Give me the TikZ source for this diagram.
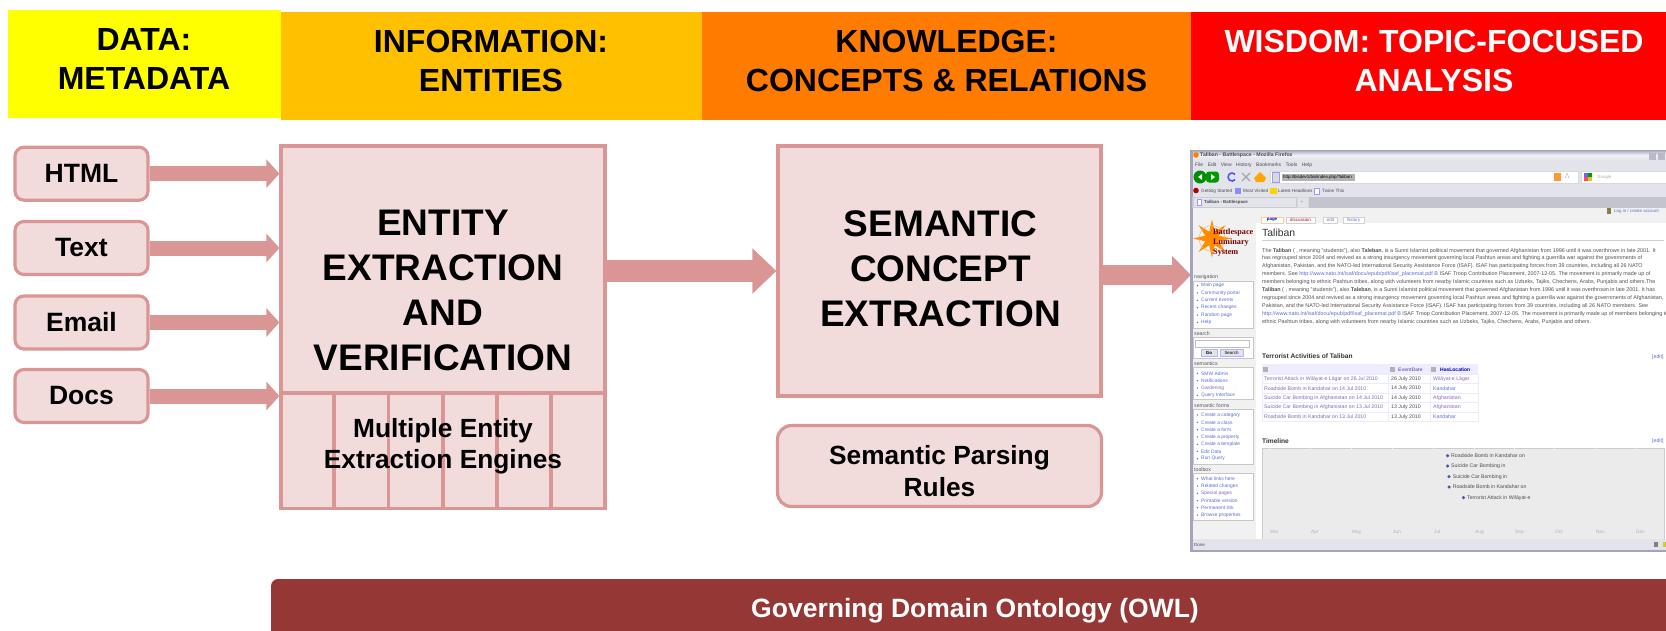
\documentclass[tikz,border=0pt]{standalone}
\usepackage{fontspec}
\setmainfont{Liberation Sans}
\newfontfamily\logofont{Liberation Serif}
\usetikzlibrary{arrows.meta,shapes.geometric}
\definecolor{databand}{HTML}{FFFF00}
\definecolor{infoband}{HTML}{FFC000}
\definecolor{knowband}{HTML}{FF7C00}
\definecolor{wisdomband}{HTML}{FF0000}
\definecolor{boxedge}{HTML}{D99694}
\definecolor{boxfill}{HTML}{F2DCDB}
\definecolor{owlbar}{HTML}{953735}
\definecolor{chrome}{HTML}{E2E3EB}
\definecolor{chromedark}{HTML}{B9BAC6}
\definecolor{winedge}{HTML}{A3A4BC}
\definecolor{linkblue}{HTML}{5A6FD0}
\definecolor{linkviolet}{HTML}{8468B8}
\definecolor{bodygrey}{HTML}{505050}
\definecolor{panelgrey}{HTML}{F1F1F1}
\definecolor{lineagrey}{HTML}{EBEBEB}
\tikzset{
  band/.style={anchor=center,inner sep=0pt,align=center,font=\bfseries\fontsize{32}{38.5}\selectfont},
  source/.style={draw=boxedge,fill=boxfill,line width=3.2pt,rounded corners=9pt,minimum width=133pt,minimum height=53pt,inner sep=0pt,font=\bfseries\fontsize{26.5}{32}\selectfont},
  stagebox/.style={draw=boxedge,fill=boxfill,line width=3.2pt,inner sep=0pt},
  stagetext/.style={inner sep=0pt,align=center,font=\bfseries\fontsize{37}{45}\selectfont},
  ruletext/.style={inner sep=0pt,align=center,font=\bfseries\fontsize{26.3}{31.5}\selectfont},
  feedarrow/.style={draw=boxedge,line width=15pt,-{Triangle[width=28pt,length=13pt]}},
  flowarrow/.style={draw=boxedge,line width=22pt,-{Triangle[width=44pt,length=24pt]}},
  shotarrow/.style={draw=boxedge,line width=20pt,-{Triangle[width=37pt,length=19pt]}},
  chrometext/.style={anchor=west,inner sep=0pt,text=black!70,font=\fontsize{5}{6}\selectfont},
  bodyline/.style={anchor=west,inner sep=0pt,text=bodygrey,font=\fontsize{5.4}{6}\selectfont},
  navhead/.style={anchor=west,inner sep=0pt,text=black!65,font=\fontsize{5.2}{6}\selectfont},
  navpanel/.style={draw=black!22,fill=white,line width=0.6pt},
  navdot/.style={circle,fill=linkblue,minimum size=1.6pt,inner sep=0pt},
  navitem/.style={anchor=west,inner sep=0pt,text=linkblue,font=\fontsize{4.9}{5.5}\selectfont,label={[navdot,label distance=2.6pt]left:{}}},
  sectionhead/.style={anchor=west,inner sep=0pt,text=black!80,font=\bfseries\fontsize{6.6}{7}\selectfont},
  tablecell/.style={anchor=west,inner sep=0pt,font=\fontsize{5.2}{6}\selectfont},
  eventtext/.style={anchor=west,inner sep=0pt,text=black!70,font=\fontsize{5.2}{6}\selectfont},
  monthtext/.style={anchor=west,inner sep=0pt,text=black!30,font=\fontsize{4.8}{6}\selectfont},
  eventdot/.style={circle,fill=linkblue!80!black,minimum size=3.5pt,inner sep=0pt},
  pagetab/.style={draw=black!18,fill=white,line width=0.5pt,minimum height=6.5pt,inner sep=0pt,font=\fontsize{4.4}{5}\selectfont},
}
\begin{document}
\begin{tikzpicture}[x=1pt,y=-1pt]
\useasboundingbox (0,0) rectangle (1666,630);
\clip (0,0) rectangle (1666,630);
% header bands
\fill [databand] (8,10) rectangle (281,118);
\fill [infoband] (281,12) rectangle (702,120);
\fill [knowband] (702,12) rectangle (1191,120);
\fill [wisdomband] (1191,12) rectangle (1666,120);
\node (data) [band] at (144,59) {DATA:\\METADATA};
\node (info) [band] at (491,61) {INFORMATION:\\ENTITIES};
\node (know) [band] at (946.5,61) {KNOWLEDGE:\\CONCEPTS \& RELATIONS};
\node (wisdom) [band,text=white] at (1434,61) {WISDOM: TOPIC-FOCUSED\\ANALYSIS};
% sources
\node (html) [source] at (81.5,173.7) {HTML};
\node (text) [source] at (81.5,248) {Text};
\node (email) [source] at (81.5,322.5) {Email};
\node (docs) [source] at (81.5,396) {Docs};
% entity stage
\node (entity) [stagebox,minimum width=324pt,minimum height=247pt] at (443,269.5) {};
\node (engines) [stagebox,minimum width=324pt,minimum height=115.5pt] at (443,450.75) {};
\draw [boxedge,line width=3.2pt] (334,393) -- (334,508.5);
\draw [boxedge,line width=3.2pt] (388.5,393) -- (388.5,508.5);
\draw [boxedge,line width=3.2pt] (443,393) -- (443,508.5);
\draw [boxedge,line width=3.2pt] (497,393) -- (497,508.5);
\draw [boxedge,line width=3.2pt] (551,393) -- (551,508.5);
\node (entitylabel) [stagetext] at (443,290) {ENTITY\\EXTRACTION\\AND\\VERIFICATION};
\node (engineslabel) [ruletext] at (443,446) {Multiple Entity\\Extraction Engines};
% concept stage
\node (concept) [stagebox,minimum width=323pt,minimum height=250pt] at (939.5,271) {};
\node (conceptlabel) [stagetext] at (940.5,268.5) {SEMANTIC\\CONCEPT\\EXTRACTION};
\node (rules) [stagebox,rounded corners=14pt,minimum width=324pt,minimum height=81pt] at (939.5,466) {};
\node (ruleslabel) [ruletext] at (939.5,471) {Semantic Parsing\\Rules};
% browser shot
\coordinate (shotedge) at (1191,275);
\draw [feedarrow] (html.east) -- (html.east -| entity.west);
\draw [feedarrow] (text.east) -- (text.east -| entity.west);
\draw [feedarrow] (email.east) -- (email.east -| entity.west);
\draw [feedarrow] (docs.east) -- (docs.east -| entity.west);
\draw [flowarrow] (entity.east |- 0,271) -- (concept.west |- 0,271);
\draw [shotarrow] (concept.east |- shotedge) -- (shotedge);
\fill [white] (1190,150) rectangle (1666,552);
\fill [chrome] (1190,150) rectangle (1666,208);
\shade [top color=winedge,bottom color=chrome,middle color=white!85!winedge] (1190,150) rectangle (1666,160);
\fill [winedge] (1190,150) rectangle (1192.5,552);
\fill [orange] (1196,155) circle (2.8pt);
\node (wintitle) [chrometext,font=\bfseries\fontsize{5.2}{6}\selectfont] at (1200,155.5) {Taliban - Battlespace - Mozilla Firefox};
\fill [chromedark] (1649,153) rectangle (1656,160);
\fill [chromedark] (1658,153) rectangle (1665,160);
\node (menubar) [chrometext] at (1195,165.7) {File\hspace{4.5pt}Edit\hspace{4.5pt}View\hspace{4.5pt}History\hspace{4.5pt}Bookmarks\hspace{4.5pt}Tools\hspace{4.5pt}Help};
% toolbar
\fill [green!55!black] (1200,177) circle (6.5pt);
\fill [green!60!black,rounded corners=3pt] (1206,171.5) rectangle (1219,182.5);
\fill [white] (1202,174) -- (1198,177) -- (1202,180) -- cycle;
\fill [white] (1211,174) -- (1215,177) -- (1211,180) -- cycle;
\draw [blue!70,line width=1.5pt] (1235.1,179.6) arc (40:320:4);
\draw [black!35,line width=1.3pt] (1242,173) -- (1250,181);
\draw [black!35,line width=1.3pt] (1250,173) -- (1242,181);
\fill [orange!70!yellow] (1260,172) -- (1266,178) -- (1264,182) -- (1256,182) -- (1254,178) -- cycle;
\fill [white,draw=black!15] (1270,171) rectangle (1578,183);
\fill [black!15,draw=blue!40] (1272,172) rectangle (1279,182);
\fill [black!30] (1282,173.5) rectangle (1355,181);
\node (urltext) [chrometext,text=black,font=\fontsize{4.4}{5}\selectfont] at (1283,177.3) {http://bisdev1/bis/index.php/Taliban};
\fill [orange!80] (1554,173) rectangle (1561,181);
\draw [black!30] (1567,173) -- (1569,178) -- (1565,178) -- cycle;
\fill [white,draw=black!15] (1581,171) rectangle (1666,183);
\fill [blue!60] (1584,173) rectangle (1588,177);
\fill [green!60!black] (1588,173) rectangle (1592,177);
\fill [red!70] (1584,177) rectangle (1588,181);
\fill [yellow!80!black] (1588,177) rectangle (1592,181);
\node (googletext) [chrometext,text=black!30,font=\fontsize{4.4}{5}\selectfont] at (1597,177.3) {Google};
% bookmarks
\fill [red!70!black] (1196,190.5) circle (2.8pt);
\node (bmgetting) [chrometext,font=\fontsize{4.6}{5}\selectfont] at (1201,191) {Getting Started};
\fill [blue!45] (1234.5,188) rectangle (1241,194);
\node (bmvisited) [chrometext,font=\fontsize{4.6}{5}\selectfont] at (1243,191) {Most Visited};
\fill [yellow!70!orange] (1270,188) rectangle (1277,194);
\node (bmlatest) [chrometext,font=\fontsize{4.6}{5}\selectfont] at (1278,191) {Latest Headlines};
\fill [white,draw=blue!40] (1314,188) rectangle (1319,194);
\node (bmtwine) [chrometext,font=\fontsize{4.6}{5}\selectfont] at (1322,191) {Twine This};
% tab strip
\fill [chromedark!85] (1192,197) rectangle (1666,207.5);
\fill [chrome,draw=black!20] (1193,197) rectangle (1296,207.5);
\fill [white,draw=blue!40] (1197,199) rectangle (1201,205);
\node (tabtitle) [chrometext,font=\bfseries\fontsize{4.4}{5}\selectfont] at (1204,202.3) {Taliban - Battlespace};
\fill [chrome,draw=black!15] (1297,197.5) rectangle (1308,207);
\node (tabplus) [chrometext,text=black!40] at (1300.5,202) {+};
% page
\fill [panelgrey] (1192.5,207.5) rectangle (1666,223);
\fill [panelgrey] (1192.5,223) rectangle (1256,540);
\node (logostar) [star,star points=8,star point ratio=2.6,fill=orange!90!yellow,minimum size=38pt,inner sep=0pt] at (1212,238.5) {};
\draw [orange!60,line width=0.5pt] (1212,238.5) circle (13);
\node (logotext) [anchor=north west,inner sep=0pt,align=left,text=red!45!black,font=\logofont\bfseries\fontsize{8.2}{9.7}\selectfont] at (1213,229) {Battlespace\\Luminary\\System};
\fill [black!55!yellow] (1607,208) rectangle (1611,214);
\node (loginlink) [chrometext,text=linkblue,font=\fontsize{4.4}{5}\selectfont] at (1614,211) {Log in / create account};
\node (tabpage) [pagetab,text=blue!70!black,font=\bfseries\fontsize{4.4}{5}\selectfont,minimum width=22pt,draw=orange!40] at (1272,220) {page};
\node (tabdiscuss) [pagetab,text=red!70!black,minimum width=29pt] at (1300.5,220) {discussion};
\node (tabedit) [pagetab,text=linkblue,minimum width=14pt] at (1330.5,220) {edit};
\node (tabhistory) [pagetab,text=linkblue,minimum width=21pt] at (1353.5,220) {history};
\node (pagetitle) [anchor=west,inner sep=0pt,text=black!80,font=\fontsize{10.4}{12}\selectfont] at (1262,232.5) {Taliban};
\draw [black!18,line width=0.7pt] (1262,240) -- (1664,240);
% article text
\node (body1) [bodyline] at (1262,250.7) {The \textbf{Taliban} ( , meaning "students"), also \textbf{Taleban}, is a Sunni Islamist political movement that governed Afghanistan from 1996 until it was overthrown in late 2001. It};
\node (body2) [bodyline] at (1262,258.3) {has regrouped since 2004 and revived as a strong insurgency movement governing local Pashtun areas and fighting a guerrilla war against the governments of};
\node (body3) [bodyline] at (1262,266) {Afghanistan, Pakistan, and the NATO-led International Security Assistance Force (ISAF). ISAF has participating forces from 39 countries, including all 26 NATO};
\node (body4) [bodyline] at (1262,274) {members. See \textcolor{linkblue}{http://www.nato.int/isaf/docu/epub/pdf/isaf\_placemat.pdf B} ISAF Troop Contribution Placement, 2007-12-05. The movement is primarily made up of};
\node (body5) [bodyline] at (1262,282) {members belonging to ethnic Pashtun tribes, along with volunteers from nearby Islamic countries such as Uzbeks, Tajiks, Chechens, Arabs, Punjabis and others.The};
\node (body6) [bodyline] at (1262,290) {\textbf{Taliban} ( , meaning "students"), also \textbf{Taleban}, is a Sunni Islamist political movement that governed Afghanistan from 1996 until it was overthrown in late 2001. It has};
\node (body7) [bodyline] at (1262,297.7) {regrouped since 2004 and revived as a strong insurgency movement governing local Pashtun areas and fighting a guerrilla war against the governments of Afghanistan,};
\node (body8) [bodyline] at (1262,305.7) {Pakistan, and the NATO-led International Security Assistance Force (ISAF). ISAF has participating forces from 39 countries, including all 26 NATO members. See};
\node (body9) [bodyline] at (1262,313.7) {\textcolor{linkblue}{http://www.nato.int/isaf/docu/epub/pdf/isaf\_placemat.pdf B} ISAF Troop Contribution Placement, 2007-12-05. The movement is primarily made up of members belonging to};
\node (body10) [bodyline] at (1262,321.7) {ethnic Pashtun tribes, along with volunteers from nearby Islamic countries such as Uzbeks, Tajiks, Chechens, Arabs, Punjabis and others.};
% sidebar
\node (navhead) [navhead] at (1194,277) {navigation};
\draw [navpanel] (1193,281) rectangle (1253,328);
\node (nav1) [navitem] at (1201,285.7) {Main page};
\node (nav2) [navitem] at (1201,293) {Community portal};
\node (nav3) [navitem] at (1201,300.3) {Current events};
\node (nav4) [navitem] at (1201,307.7) {Recent changes};
\node (nav5) [navitem] at (1201,315) {Random page};
\node (nav6) [navitem] at (1201,322.3) {Help};
\node (searchhead) [navhead] at (1194,333.5) {search};
\draw [navpanel] (1193,337) rectangle (1253,358);
\draw [black!25,fill=white,line width=0.5pt] (1195,340) rectangle (1249,347);
\node (gobtn) [draw=blue!30,fill=chrome,line width=0.6pt,inner sep=0pt,minimum width=16pt,minimum height=7pt,font=\bfseries\fontsize{4.4}{5}\selectfont] at (1209,352.5) {Go};
\node (searchbtn) [draw=blue!30,fill=chrome,line width=0.6pt,inner sep=0pt,minimum width=23pt,minimum height=7pt,font=\fontsize{4.4}{5}\selectfont] at (1231.5,352.5) {Search};
\node (semhead) [navhead] at (1194,364) {semantics};
\draw [navpanel] (1193,367.7) rectangle (1253,399);
\node (sem1) [navitem] at (1201,373.3) {SMW Admin};
\node (sem2) [navitem] at (1201,380.7) {Notifications};
\node (sem3) [navitem,text=linkviolet] at (1201,388) {Gardening};
\node (sem4) [navitem] at (1201,395.3) {Query Interface};
\node (formhead) [navhead] at (1194,406) {semantic forms};
\draw [navpanel] (1193,409) rectangle (1253,464);
\node (form1) [navitem] at (1201,415) {Create a category};
\node (form2) [navitem] at (1201,422.3) {Create a class};
\node (form3) [navitem] at (1201,429.7) {Create a form};
\node (form4) [navitem] at (1201,437) {Create a property};
\node (form5) [navitem] at (1201,444.3) {Create a template};
\node (form6) [navitem] at (1201,451.3) {Edit Data};
\node (form7) [navitem] at (1201,458.7) {Run Query};
\node (toolhead) [navhead] at (1194,470) {toolbox};
\draw [navpanel] (1193,473) rectangle (1253,520);
\node (tool1) [navitem] at (1201,478.7) {What links here};
\node (tool2) [navitem] at (1201,486) {Related changes};
\node (tool3) [navitem,text=linkviolet] at (1201,493.3) {Special pages};
\node (tool4) [navitem] at (1201,500.7) {Printable version};
\node (tool5) [navitem] at (1201,507.7) {Permanent link};
\node (tool6) [navitem] at (1201,515) {Browse properties};
% table
\node (tablehead) [sectionhead] at (1262,356) {Terrorist Activities of Taliban};
\node (tableedit) [tablecell,text=linkblue] at (1652,357) {[edit]};
\fill [blue!7] (1262,364) rectangle (1478,374);
\draw [blue!8,fill=white,line width=0.5pt] (1262,374) rectangle (1478,421);
\draw [blue!8,line width=0.5pt] (1388,364) -- (1388,421);
\draw [blue!8,line width=0.5pt] (1430,364) -- (1430,421);
\draw [blue!8,line width=0.5pt] (1262,383.5) -- (1478,383.5);
\draw [blue!8,line width=0.5pt] (1262,393) -- (1478,393);
\draw [blue!8,line width=0.5pt] (1262,402.7) -- (1478,402.7);
\draw [blue!8,line width=0.5pt] (1262,412) -- (1478,412);
\fill [black!30] (1263,367) rectangle (1268,372);
\fill [black!30] (1390,367) rectangle (1395,372);
\fill [black!30] (1431,367) rectangle (1436,372);
\node (coldate) [tablecell,text=linkviolet,font=\bfseries\fontsize{5}{6}\selectfont] at (1398,369.3) {EventDate};
\node (colplace) [tablecell,text=blue!70!black,font=\bfseries\fontsize{5}{6}\selectfont] at (1440,369.3) {HasLocation};
\node (row1a) [tablecell,text=linkviolet] at (1264,378.7) {Terrorist Attack in Wilāyat-e Lāgar on 26 Jul 2010};
\node (row1b) [tablecell,text=black!70] at (1391,378.7) {26 July 2010};
\node (row1c) [tablecell,text=linkviolet] at (1433,378.7) {Wilāyat-e Lāgar};
\node (row2a) [tablecell,text=linkviolet] at (1264,388.3) {Roadside Bomb in Kandahar on 14 Jul 2010};
\node (row2b) [tablecell,text=black!70] at (1391,388.3) {14 July 2010};
\node (row2c) [tablecell,text=linkblue] at (1433,388.3) {Kandahar};
\node (row3a) [tablecell,text=linkviolet] at (1264,398) {Suicide Car Bombing in Afghanistan on 14 Jul 2010};
\node (row3b) [tablecell,text=black!70] at (1391,398) {14 July 2010};
\node (row3c) [tablecell,text=linkviolet] at (1433,398) {Afghanistan};
\node (row4a) [tablecell,text=linkviolet] at (1264,407.3) {Suicide Car Bombing in Afghanistan on 13 Jul 2010};
\node (row4b) [tablecell,text=black!70] at (1391,407.3) {13 July 2010};
\node (row4c) [tablecell,text=linkviolet] at (1433,407.3) {Afghanistan};
\node (row5a) [tablecell,text=linkviolet] at (1264,417) {Roadside Bomb in Kandahar on 13 Jul 2010};
\node (row5b) [tablecell,text=black!70] at (1391,417) {13 July 2010};
\node (row5c) [tablecell,text=linkblue] at (1433,417) {Kandahar};
% timeline
\node (linehead) [sectionhead] at (1262,441) {Timeline};
\node (lineedit) [tablecell,text=linkblue] at (1652,441.5) {[edit]};
\fill [lineagrey,draw=black!20,line width=0.5pt] (1262,448) rectangle (1664,539);
\draw [black!8,line width=0.4pt] (1269,448) -- (1269,539);
\draw [black!8,line width=0.4pt] (1310,448) -- (1310,539);
\draw [black!8,line width=0.4pt] (1351,448) -- (1351,539);
\draw [black!8,line width=0.4pt] (1392,448) -- (1392,539);
\draw [black!8,line width=0.4pt] (1433,448) -- (1433,539);
\draw [black!8,line width=0.4pt] (1474,448) -- (1474,539);
\draw [black!8,line width=0.4pt] (1514,448) -- (1514,539);
\draw [black!8,line width=0.4pt] (1554,448) -- (1554,539);
\draw [black!8,line width=0.4pt] (1595,448) -- (1595,539);
\draw [black!8,line width=0.4pt] (1635,448) -- (1635,539);
\node (dot1) [eventdot] at (1447.6,455.7) {};
\node (event1) [eventtext] at (1451,455.7) {Roadside Bomb in Kandahar on};
\node (dot2) [eventdot] at (1447.6,466) {};
\node (event2) [eventtext] at (1451,466) {Suicide Car Bombing in};
\node (dot3) [eventdot] at (1449,476.7) {};
\node (event3) [eventtext] at (1452.6,476.7) {Suicide Car Bombing in};
\node (dot4) [eventdot] at (1449,487) {};
\node (event4) [eventtext] at (1452.6,487) {Roadside Bomb in Kandahar on};
\node (dot5) [eventdot] at (1463.5,497.7) {};
\node (event5) [eventtext] at (1467,497.7) {Terrorist Attack in Wilāyat-e};
\node (mar) [monthtext] at (1270,532) {Mar};
\node (apr) [monthtext] at (1311,532) {Apr};
\node (may) [monthtext] at (1352,532) {May};
\node (jun) [monthtext] at (1393,532) {Jun};
\node (jul) [monthtext] at (1434,532) {Jul};
\node (aug) [monthtext] at (1475,532) {Aug};
\node (sep) [monthtext] at (1515,532) {Sep};
\node (oct) [monthtext] at (1555,532) {Oct};
\node (nov) [monthtext] at (1596,532) {Nov};
\node (dec) [monthtext] at (1636,532) {Dec};
% status bar
\fill [chrome] (1192.5,539) rectangle (1666,549.5);
\fill [winedge] (1190,549.5) rectangle (1666,552);
\node (status) [chrometext,font=\fontsize{4.4}{5}\selectfont] at (1194,544.5) {Done};
\fill [black!50] (1654,542) rectangle (1658,547);
\fill [yellow!80!black] (1663,542) rectangle (1666,547);
% ontology bar
\fill [owlbar,rounded corners=7pt] (271,579) rectangle (1700,660);
\node (ontology) [inner sep=0pt,text=white,font=\bfseries\fontsize{26.5}{32}\selectfont] at (975,611) {Governing Domain Ontology (OWL)};
\end{tikzpicture}
\end{document}
